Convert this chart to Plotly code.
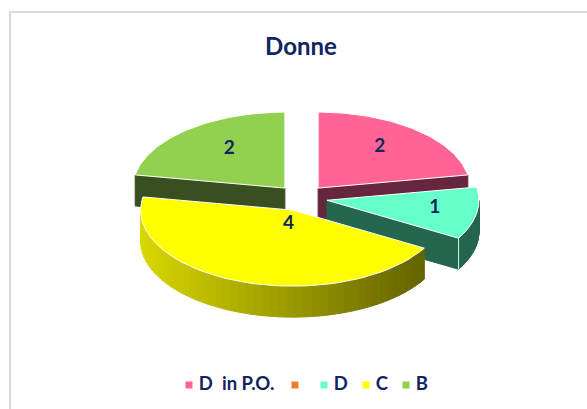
import math
import plotly.graph_objects as go

# ---- data ----
categories = ["D\u00a0 in P.O.", "", "D", "C", "B"]
values = [2, 0, 1, 4, 2]
top_colors = ["#ff6495", "#ed7d31", "#66ffc8", "#ffff00", "#92d050"]
wall_colors = ["#66263d", "#ed7d31", "#25664f", "#8f8f00", "#3a4f1f"]
title_text = "Donne"

# ---- layout constants (pixel-mapped axes) ----
W, H = 587, 409
CX, CY = 301.5, 198.0
RX, RY = 152.0, 76.0
DEPTH = 31.0
EXPLODE = 0.17
NAVY = "#12245f"
FONT = "Lato"
DRAW_ORDER = [0, 4, 2, 3]
LABEL_FRAC = {0: 0.63, 2: 0.72, 3: 0.08, 4: 0.57}
LABEL_DY = {0: -4, 2: -2, 3: 8, 4: -6}
LEGEND_X = [189, 295, 324, 366, 406]
LEGEND_Y = 385


def rim(cx, cy, deg):
    a = math.radians(deg)
    return cx + RX * math.sin(a), cy - RY * math.cos(a)


def arc(cx, cy, a0, a1, n=60):
    pts = [rim(cx, cy, a0 + (a1 - a0) * i / n) for i in range(n + 1)]
    return [p[0] for p in pts], [p[1] for p in pts]


def poly(xs, ys, fill, line=None, width=1):
    return go.Scatter(
        x=xs + xs[:1], y=ys + ys[:1], mode="lines", fill="toself", fillcolor=fill,
        line=dict(color=line or fill, width=width), hoverinfo="skip", showlegend=False,
    )


def mix(c0, c1, t):
    return "rgb(%d,%d,%d)" % tuple(round(a + (b - a) * t) for a, b in zip(c0, c1))


total = sum(values)
spans = []
acc = 0.0
for v in values:
    spans.append((acc, acc + 360.0 * v / total))
    acc = spans[-1][1]

fig = go.Figure()
label_x, label_y, label_t = [], [], []

for i in DRAW_ORDER:
    a0, a1 = spans[i]
    mid = math.radians((a0 + a1) / 2)
    cx = CX + EXPLODE * RX * math.sin(mid)
    cy = CY - EXPLODE * RY * math.cos(mid)

    # flat cut faces that look towards the viewer
    if 0 < a1 < 180:
        x, y = rim(cx, cy, a1)
        fig.add_trace(poly([cx, x, x, cx], [cy, y, y + DEPTH, cy + DEPTH], wall_colors[i]))
    if 180 < a0 < 360:
        x, y = rim(cx, cy, a0)
        fig.add_trace(poly([cx, x, x, cx], [cy, y, y + DEPTH, cy + DEPTH], wall_colors[i]))

    # outer rounded wall, shaded in strips
    w0, w1 = max(a0, 90), min(a1, 270)
    if w1 > w0:
        n = 48
        for k in range(n):
            s0 = w0 + (w1 - w0) * k / n
            s1 = w0 + (w1 - w0) * (k + 1) / n
            xs, ys = arc(cx, cy, s0, s1, 3)
            if i == 3:
                t = (max(xs) - (cx - RX)) / ((rim(cx, cy, a0)[0]) - (cx - RX))
                col = mix((216, 216, 0), (100, 100, 0), min(1, max(0, t)))
            else:
                col = wall_colors[i]
            fig.add_trace(poly(xs + xs[::-1], ys + [v + DEPTH for v in ys[::-1]], col))
        if i == 2:
            x, y = rim(cx, cy, a1)
            fig.add_trace(go.Scatter(x=[x, x], y=[y, y + DEPTH], mode="lines",
                                     line=dict(color="#dff5ee", width=1),
                                     hoverinfo="skip", showlegend=False))

    # top face
    xs, ys = arc(cx, cy, a0, a1)
    fig.add_trace(poly([cx] + xs, [cy] + ys, top_colors[i], line="#ffffff", width=1))

    # data label
    f = LABEL_FRAC[i]
    label_x.append(cx + f * RX * math.sin(mid))
    label_y.append(cy - f * RY * math.cos(mid) + LABEL_DY[i])
    label_t.append(str(values[i]))

fig.add_trace(go.Scatter(
    x=label_x, y=label_y, text=label_t, mode="text", textposition="middle center",
    textfont=dict(family=FONT, size=19, color=NAVY, weight=700),
    hoverinfo="skip", showlegend=False,
))

# legend row
for i, name in enumerate(categories):
    fig.add_trace(go.Scatter(
        x=[LEGEND_X[i]], y=[LEGEND_Y], text=["\u00a0" + name], name=name or " ",
        mode="markers+text", textposition="middle right",
        marker=dict(symbol="square", size=7, color=top_colors[i]),
        textfont=dict(family=FONT, size=18.5, color=NAVY, weight=700),
        hoverinfo="skip", showlegend=False,
    ))

fig.update_layout(
    width=W, height=H,
    autosize=False,
    margin=dict(l=0, r=0, t=0, b=0),
    paper_bgcolor="#ffffff",
    plot_bgcolor="#ffffff",
    title=dict(text=title_text, x=301 / W, xanchor="center", y=1 - 47 / H, yanchor="middle",
               font=dict(family=FONT, size=24, color=NAVY, weight=700)),
    xaxis=dict(range=[0, W], visible=False, fixedrange=True),
    yaxis=dict(range=[H, 0], visible=False, fixedrange=True),
    shapes=[dict(type="rect", xref="x", yref="y", x0=10, y0=12, x1=W + 20, y1=H + 20,
                 line=dict(color="#d9d9d9", width=2), layer="below")],
)
fig.write_html("out.html", config={"displayModeBar": False},
               post_script="document.body.style.margin='0';")
